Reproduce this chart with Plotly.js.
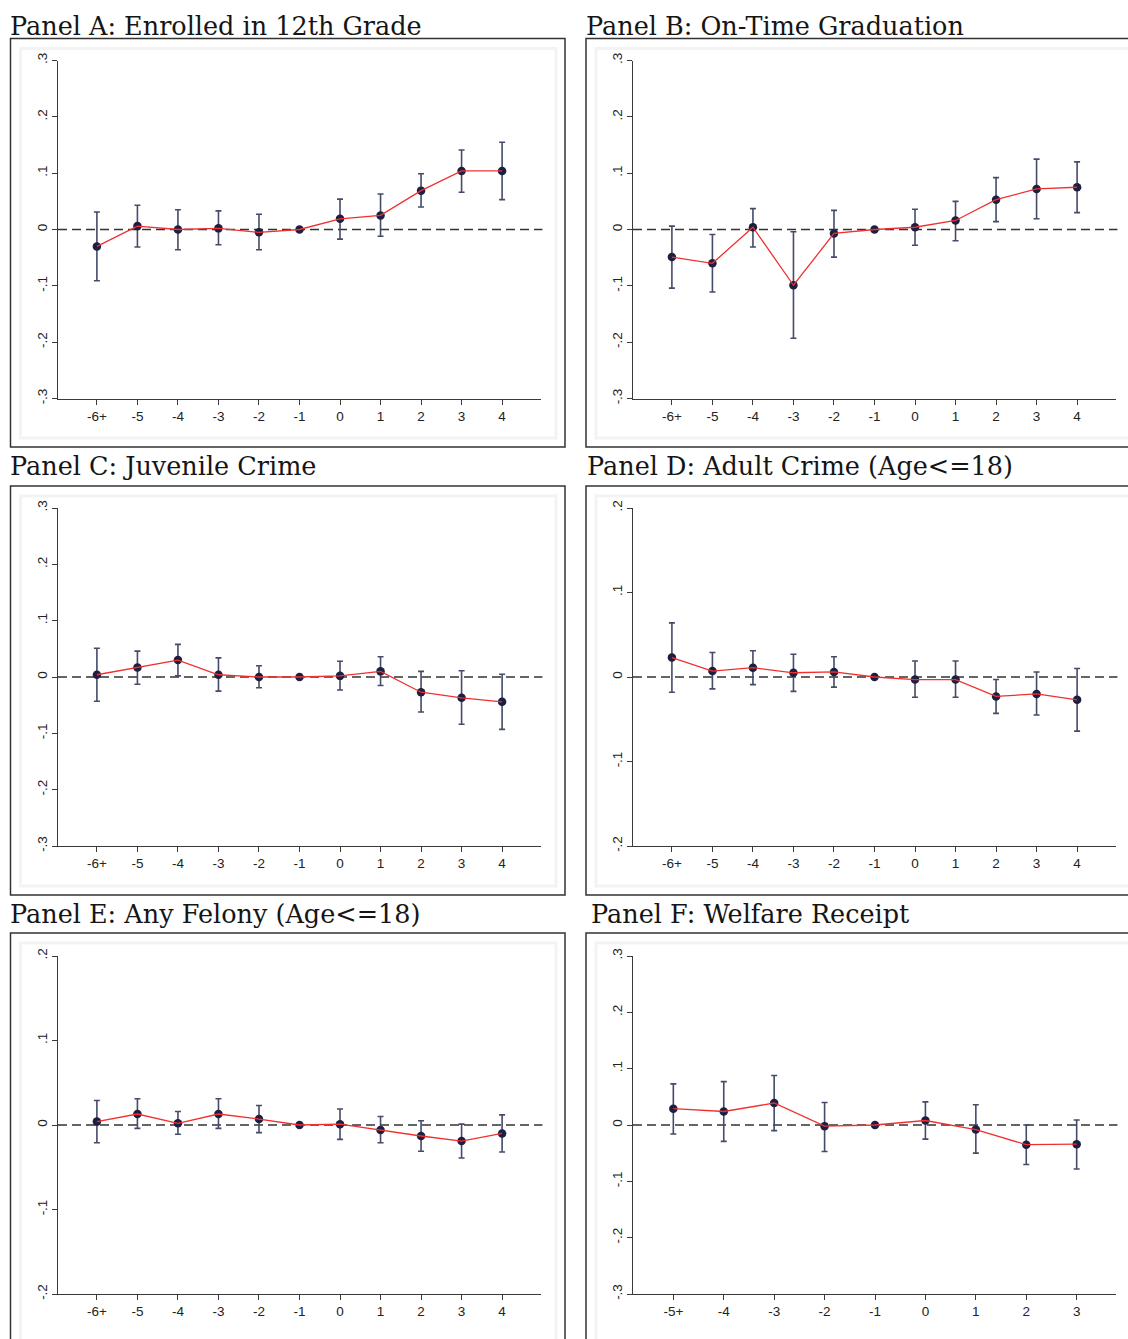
<!DOCTYPE html>
<html>
<head>
<meta charset="utf-8">
<script src="https://cdn.plot.ly/plotly-3.0.1.min.js"></script>
<style>html,body{margin:0;padding:0;background:#fff;}#chart{width:1128px;height:1339px;}</style>
</head>
<body>
<div id="chart"></div>
<script>
// ---------- DATA ----------
const xLabels = ['-6+','-5','-4','-3','-2','-1','0','1','2','3','4'];
const xLabelsF = ['-5+','-4','-3','-2','-1','0','1','2','3'];

const titleA = 'Panel A: Enrolled in 12th Grade';
const estA = [-0.030, 0.006, 0.000, 0.002, -0.005, 0, 0.019, 0.025, 0.069, 0.104, 0.104];
const hiA  = [ 0.031, 0.043, 0.035, 0.033,  0.027, 0, 0.054, 0.063, 0.099, 0.141, 0.155];
const loA  = [-0.091,-0.031,-0.036,-0.027, -0.036, 0,-0.017,-0.012, 0.040, 0.066, 0.053];

const titleB = 'Panel B: On-Time Graduation';
const estB = [-0.049,-0.060, 0.004,-0.099,-0.007, 0, 0.004, 0.016, 0.053, 0.072, 0.075];
const hiB  = [ 0.006,-0.009, 0.037,-0.004, 0.034, 0, 0.036, 0.050, 0.092, 0.125, 0.120];
const loB  = [-0.104,-0.111,-0.031,-0.193,-0.049, 0,-0.028,-0.020, 0.014, 0.019, 0.030];

const titleC = 'Panel C: Juvenile Crime';
const estC = [ 0.004, 0.017, 0.030, 0.004, 0.000, 0, 0.002, 0.010,-0.027,-0.037,-0.044];
const hiC  = [ 0.051, 0.046, 0.058, 0.034, 0.020, 0, 0.028, 0.036, 0.010, 0.011, 0.005];
const loC  = [-0.043,-0.013, 0.002,-0.025,-0.019, 0,-0.023,-0.015,-0.062,-0.084,-0.093];

const titleD = 'Panel D: Adult Crime (Age<=18)';
const estD = [ 0.023, 0.007, 0.011, 0.005, 0.006, 0,-0.003,-0.003,-0.023,-0.020,-0.027];
const hiD  = [ 0.064, 0.029, 0.031, 0.027, 0.024, 0, 0.019, 0.019,-0.003, 0.006, 0.010];
const loD  = [-0.018,-0.014,-0.009,-0.017,-0.012, 0,-0.024,-0.024,-0.043,-0.045,-0.064];

const titleE = 'Panel E: Any Felony (Age<=18)';
const estE = [ 0.004, 0.013, 0.002, 0.013, 0.007, 0, 0.001,-0.006,-0.013,-0.019,-0.010];
const hiE  = [ 0.029, 0.031, 0.016, 0.031, 0.023, 0, 0.019, 0.010, 0.005, 0.001, 0.012];
const loE  = [-0.021,-0.004,-0.011,-0.004,-0.009, 0,-0.017,-0.021,-0.031,-0.039,-0.032];

const titleF = 'Panel F: Welfare Receipt';
const estF = [ 0.029, 0.024, 0.039,-0.002, 0, 0.008,-0.008,-0.035,-0.034];
const hiF  = [ 0.073, 0.077, 0.088, 0.040, 0, 0.041, 0.036, 0.000, 0.009];
const loF  = [-0.016,-0.029,-0.010,-0.047, 0,-0.025,-0.050,-0.070,-0.078];

const yTicks3 = [-0.3,-0.2,-0.1,0,0.1,0.2,0.3];
const yText3  = ['-.3','-.2','-.1','0','.1','.2','.3'];
const yTicks2 = [-0.2,-0.1,0,0.1,0.2];
const yText2  = ['-.2','-.1','0','.1','.2'];

// ---------- LAYOUT ----------
const W = 1128, H = 1339;
const px = v => v / W;
const py = v => 1 - v / H;

const panels = [
  {title: titleA, cats: xLabels,  est: estA, hi: hiA, lo: loA, yt: yTicks3, ytt: yText3, yr: [-0.3,0.3], xr: [-0.96,10.96]},
  {title: titleB, cats: xLabels,  est: estB, hi: hiB, lo: loB, yt: yTicks3, ytt: yText3, yr: [-0.3,0.3], xr: [-0.96,10.96]},
  {title: titleC, cats: xLabels,  est: estC, hi: hiC, lo: loC, yt: yTicks3, ytt: yText3, yr: [-0.3,0.3], xr: [-0.96,10.96]},
  {title: titleD, cats: xLabels,  est: estD, hi: hiD, lo: loD, yt: yTicks2, ytt: yText2, yr: [-0.2,0.2], xr: [-0.96,10.96]},
  {title: titleE, cats: xLabels,  est: estE, hi: hiE, lo: loE, yt: yTicks2, ytt: yText2, yr: [-0.2,0.2], xr: [-0.96,10.96]},
  {title: titleF, cats: xLabelsF, est: estF, hi: hiF, lo: loF, yt: yTicks3, ytt: yText3, yr: [-0.3,0.3], xr: [-0.80,8.78]}
];

// pixel geometry
const colAxis = [[58, 541], [633, 1116]];
const rowAxis = [[60.5, 398.5], [508, 846], [956, 1294]];
const colFrame = [[10.5, 565], [586, 1140]];
const rowFrame = [[38.5, 447], [486, 895], [933, 1360]];
const titlePos = [[8, 26], [584, 26], [8, 466], [585, 466], [8, 914], [589, 914]];

const traces = [];
const layout = {
  width: W, height: H,
  margin: {l:0, r:0, t:0, b:0},
  paper_bgcolor: '#ffffff',
  plot_bgcolor: '#ffffff',
  showlegend: false,
  shapes: [],
  annotations: []
};

const tickFont = {family: 'Liberation Sans, Arial, sans-serif', size: 13.5, color: '#222'};
const axisColor = '#3a3a3a';

panels.forEach((p, i) => {
  const col = i % 2, row = Math.floor(i / 2);
  const n = i + 1;
  const xa = n === 1 ? 'x' : 'x' + n;
  const ya = n === 1 ? 'y' : 'y' + n;
  const xKey = n === 1 ? 'xaxis' : 'xaxis' + n;
  const yKey = n === 1 ? 'yaxis' : 'yaxis' + n;

  // frames
  const [fx0, fx1] = colFrame[col], [fy0, fy1] = rowFrame[row];
  layout.shapes.push({type:'rect', xref:'paper', yref:'paper', layer:'below',
    x0: px(fx0+10), x1: px(fx1-9), y0: py(fy0+10), y1: py(fy1-9),
    line: {color:'#f3f3f3', width:3}, fillcolor:'rgba(0,0,0,0)'});
  layout.shapes.push({type:'rect', xref:'paper', yref:'paper', layer:'above',
    x0: px(fx0), x1: px(fx1), y0: py(fy0), y1: py(fy1),
    line: {color:'#333', width:1.5}, fillcolor:'rgba(0,0,0,0)'});

  // zero dashed line
  layout.shapes.push({type:'line', xref: xa + ' domain', yref: ya, layer:'below',
    x0: 0, x1: 1.003, y0: 0, y1: 0,
    line: {color:'#333', width:1.6, dash:'9px,5px'}});

  // title
  layout.annotations.push({text: p.title.replace(/</g,'&lt;'), xref:'paper', yref:'paper',
    x: px(titlePos[i][0]), y: py(titlePos[i][1]), xanchor:'left', yanchor:'middle',
    showarrow:false, font:{family:'DejaVu Serif, Liberation Serif, serif', size:25.5, color:'#151515'}});

  layout[xKey] = {
    domain: [px(colAxis[col][0]), px(colAxis[col][1])],
    anchor: ya, type: 'category', categoryorder: 'array', categoryarray: p.cats,
    range: p.xr, showgrid: false, zeroline: false,
    showline: true, linecolor: axisColor, linewidth: 1,
    ticks: 'outside', ticklen: 5, tickwidth: 1, tickcolor: axisColor,
    tickfont: tickFont, fixedrange: true
  };
  layout[yKey] = {
    domain: [py(rowAxis[row][1]), py(rowAxis[row][0])],
    anchor: xa, range: p.yr, tickvals: p.yt, ticktext: p.ytt,
    tickangle: -90, showgrid: false, zeroline: false,
    showline: true, linecolor: axisColor, linewidth: 1,
    ticks: 'outside', ticklen: 5, tickwidth: 1, tickcolor: axisColor,
    tickfont: tickFont, fixedrange: true
  };

  // markers + CI
  traces.push({
    type: 'scatter', mode: 'markers', x: p.cats, y: p.est, xaxis: xa, yaxis: ya,
    marker: {size: 8.5, color: '#1c1f40'},
    error_y: {type: 'data', symmetric: false,
      array: p.hi.map((h, k) => h - p.est[k]),
      arrayminus: p.lo.map((l, k) => p.est[k] - l),
      color: '#454b68', thickness: 1.6, width: 3},
    cliponaxis: false, hoverinfo: 'skip'
  });
  // connecting line
  traces.push({
    type: 'scatter', mode: 'lines', x: p.cats, y: p.est, xaxis: xa, yaxis: ya,
    line: {color: '#f03030', width: 1.3}, hoverinfo: 'skip'
  });
});

Plotly.newPlot('chart', traces, layout, {staticPlot: true});
</script>
</body>
</html>
